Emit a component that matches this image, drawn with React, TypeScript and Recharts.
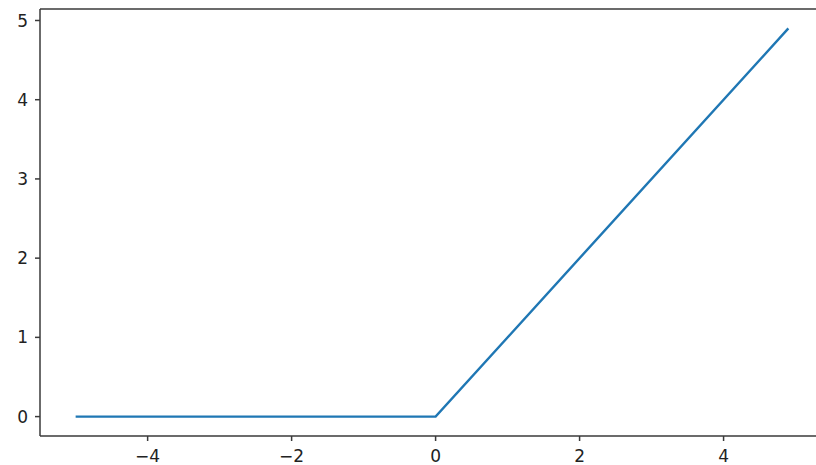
import React from 'react';
import { LineChart, Line, XAxis, YAxis, ReferenceLine } from 'recharts';

// relu breakpoints
const xValues = [-5, 0, 4.9];
const yValues = [0, 0, 4.9];
const xTicks = [-4, -2, 0, 2, 4];
const yTicks = [0, 1, 2, 3, 4, 5];

const data = xValues.map((x, i) => ({ x, y: yValues[i] }));

const fmt = (v: number) => (v < 0 ? '\u2212' + Math.abs(v) : String(v));

const spine = '#3a3a3a';
const tickStyle = { fill: '#222', fontSize: 17, fontFamily: 'DejaVu Sans' };

export default function App() {
    return (
        <div style={{ position: 'absolute', left: 0, top: 0, width: 816, height: 465, overflow: 'hidden', background: '#fff' }}>
            <LineChart width={830} height={465} data={data} margin={{ top: 9, right: 6, left: 0, bottom: 0 }}>
                <XAxis
                    dataKey="x"
                    type="number"
                    domain={[-5.495, 5.395]}
                    ticks={xTicks}
                    tickFormatter={fmt}
                    height={29}
                    stroke={spine}
                    strokeWidth={1.5}
                    tickSize={5}
                    tickMargin={9}
                    tick={tickStyle}
                    allowDataOverflow
                />
                <YAxis
                    type="number"
                    domain={[-0.245, 5.145]}
                    ticks={yTicks}
                    width={40}
                    stroke={spine}
                    strokeWidth={1.5}
                    tickSize={5}
                    tickMargin={7}
                    tick={tickStyle}
                    allowDataOverflow
                />
                <ReferenceLine y={5.145} stroke={spine} strokeWidth={1.5} />
                <Line
                    dataKey="y"
                    type="linear"
                    stroke="#1f77b4"
                    strokeWidth={2.4}
                    dot={false}
                    isAnimationActive={false}
                />
            </LineChart>
        </div>
    );
}
